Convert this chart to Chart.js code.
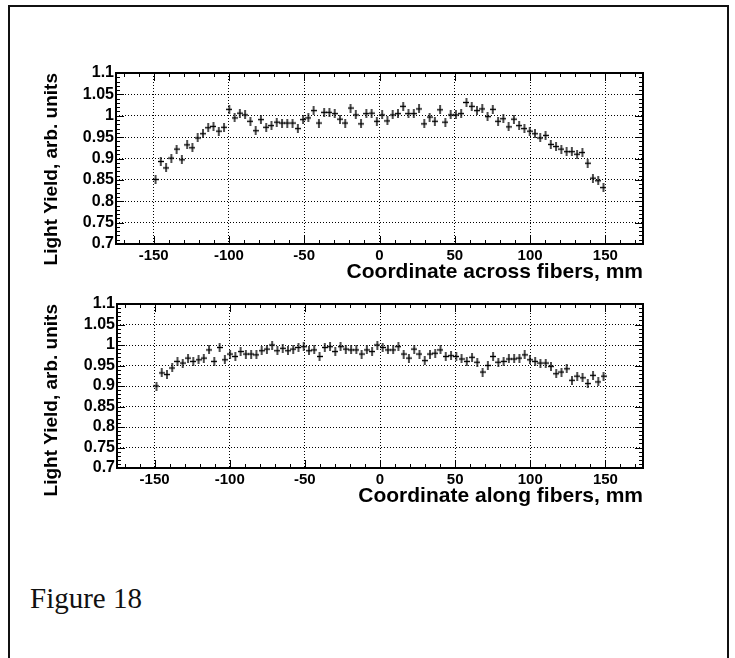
<!DOCTYPE html>
<html>
<head>
<meta charset="utf-8">
<script src="https://cdn.jsdelivr.net/npm/chart.js@4.4.1/dist/chart.umd.min.js"></script>
<style>
  html, body { margin: 0; padding: 0; background: #fff; }
  body { width: 735px; height: 658px; position: relative; overflow: hidden; }
  .frame { position: absolute; left: 8px; top: 5px; width: 721px; height: 700px;
           box-sizing: border-box; border: 2px solid #111; }
  .plot { position: absolute; left: 0; }
  #wrapAcross { top: 0; }
  #wrapAlong { top: 270px; }
  .caption { position: absolute; left: 30px; top: 582px; font: 29px "Liberation Serif", "Times New Roman", serif; color: #111; }
</style>
</head>
<body>
<div class="frame"></div>
<div class="plot" id="wrapAcross"><canvas id="across-chart" width="735" height="300"></canvas></div>
<div class="plot" id="wrapAlong"><canvas id="along-chart" width="735" height="270"></canvas></div>
<div class="caption">Figure 18</div>

<script>
// bin centres (mm), 3.5 mm bins
const positions = [
  -148.75, -145.25, -141.75, -138.25, -134.75, -131.25, -127.75, -124.25, -120.75, -117.25,
  -113.75, -110.25, -106.75, -103.25, -99.75, -96.25, -92.75, -89.25, -85.75, -82.25,
  -78.75, -75.25, -71.75, -68.25, -64.75, -61.25, -57.75, -54.25, -50.75, -47.25,
  -43.75, -40.25, -36.75, -33.25, -29.75, -26.25, -22.75, -19.25, -15.75, -12.25,
  -8.75, -5.25, -1.75,
  1.75, 5.25, 8.75, 12.25, 15.75, 19.25, 22.75, 26.25, 29.75, 33.25,
  36.75, 40.25, 43.75, 47.25, 50.75, 54.25, 57.75, 61.25, 64.75, 68.25,
  71.75, 75.25, 78.75, 82.25, 85.75, 89.25, 92.75, 96.25, 99.75, 103.25,
  106.75, 110.25, 113.75, 117.25, 120.75, 124.25, 127.75, 131.25, 134.75, 138.25,
  141.75, 145.25, 148.75
];

const yieldAcross = [
  0.851, 0.893, 0.878, 0.901, 0.922, 0.897, 0.932, 0.925, 0.948, 0.958,
  0.972, 0.975, 0.964, 0.973, 1.015, 0.995, 1.006, 1.002, 0.987, 0.965,
  0.991, 0.973, 0.977, 0.985, 0.983, 0.983, 0.983, 0.970, 0.991, 0.995,
  1.012, 0.983, 1.008, 1.008, 1.005, 0.992, 0.983, 1.018, 1.002, 0.981,
  1.005, 1.006, 0.987,
  1.002, 0.988, 1.002, 1.005, 1.022, 1.005, 1.005, 1.016, 0.981, 0.997,
  0.987, 1.014, 0.985, 1.002, 1.002, 1.005, 1.031, 1.022, 1.012, 1.016,
  0.998, 1.015, 0.987, 0.993, 0.974, 0.992, 0.977, 0.970, 0.964, 0.958,
  0.948, 0.954, 0.933, 0.928, 0.922, 0.916, 0.916, 0.910, 0.914, 0.889,
  0.854, 0.848, 0.832
];

const yieldAlong = [
  0.900, 0.932, 0.928, 0.944, 0.960, 0.956, 0.968, 0.960, 0.964, 0.968,
  0.988, 0.960, 0.994, 0.964, 0.978, 0.972, 0.984, 0.978, 0.978, 0.976,
  0.986, 0.990, 1.000, 0.986, 0.992, 0.986, 0.990, 0.994, 0.996, 0.986,
  0.988, 0.972, 0.994, 0.996, 0.984, 0.996, 0.990, 0.988, 0.988, 0.978,
  0.988, 0.984, 1.000,
  0.994, 0.988, 0.988, 0.996, 0.978, 0.968, 0.990, 0.978, 0.962, 0.978,
  0.980, 0.988, 0.972, 0.974, 0.972, 0.966, 0.960, 0.970, 0.958, 0.934,
  0.950, 0.972, 0.958, 0.960, 0.966, 0.966, 0.968, 0.976, 0.964, 0.960,
  0.956, 0.956, 0.948, 0.930, 0.934, 0.942, 0.914, 0.924, 0.920, 0.906,
  0.926, 0.910, 0.924
];

const xTicks = [-150, -100, -50, 0, 50, 100, 150];
const yTicks = [0.7, 0.75, 0.8, 0.85, 0.9, 0.95, 1, 1.05, 1.1];
const xMinorTicks = [-170, -160, -140, -130, -120, -110, -90, -80, -70, -60, -40, -30, -20, -10,
                     10, 20, 30, 40, 60, 70, 80, 90, 110, 120, 130, 140, 160, 170];
const yMinorTicks = [0.71, 0.72, 0.73, 0.74, 0.76, 0.77, 0.78, 0.79, 0.81, 0.82, 0.83, 0.84,
                     0.86, 0.87, 0.88, 0.89, 0.91, 0.92, 0.93, 0.94, 0.96, 0.97, 0.98, 0.99,
                     1.01, 1.02, 1.03, 1.04, 1.06, 1.07, 1.08, 1.09];

const SANS = '"Liberation Sans", Arial, Helvetica, sans-serif';

// small "+" marker: bin width horizontally, error bar vertically
function crossMarker() {
  const c = document.createElement('canvas');
  c.width = 6;
  c.height = 9;
  const g = c.getContext('2d');
  g.fillStyle = '#000';
  g.fillRect(0, 3.8, 6, 1.4);
  g.fillRect(2.3, 0, 1.4, 9);
  return c;
}
const marker = crossMarker();

// frame and inward ticks on all four sides, like the original histogram
const rootFrame = {
  id: 'rootFrame',
  afterDatasetsDraw(chart) {
    const { ctx, chartArea: a, scales: { x, y } } = chart;
    ctx.save();
    ctx.strokeStyle = '#000';
    ctx.lineWidth = 1;
    ctx.beginPath();
    const xt = (vals, len) => vals.forEach(v => {
      const px = Math.round(x.getPixelForValue(v)) + 0.5;
      ctx.moveTo(px, a.bottom); ctx.lineTo(px, a.bottom - len);
      ctx.moveTo(px, a.top); ctx.lineTo(px, a.top + len);
    });
    const yt = (vals, len) => vals.forEach(v => {
      const py = Math.round(y.getPixelForValue(v)) + 0.5;
      ctx.moveTo(a.left, py); ctx.lineTo(a.left + len, py);
      ctx.moveTo(a.right, py); ctx.lineTo(a.right - len, py);
    });
    xt(xTicks, 8);
    xt(xMinorTicks, 4);
    yt(yTicks, 8);
    yt(yMinorTicks, 4);
    ctx.stroke();
    ctx.lineWidth = 2;
    ctx.strokeRect(a.left, a.top, a.right - a.left, a.bottom - a.top);
    ctx.restore();
  }
};

function lightYieldChart(ctx, values, xTitle, pad, axisWidth) {
  return new Chart(ctx, {
    type: 'scatter',
    data: {
      datasets: [{
        data: positions.map((p, i) => ({ x: p, y: values[i] })),
        pointStyle: marker,
        radius: 3,
        hoverRadius: 3
      }]
    },
    options: {
      responsive: false,
      animation: false,
      devicePixelRatio: 1,
      layout: { padding: pad },
      plugins: { legend: { display: false }, tooltip: { enabled: false } },
      scales: {
        x: {
          type: 'linear',
          min: -175,
          max: 175,
          afterBuildTicks: s => { s.ticks = xTicks.map(v => ({ value: v })); },
          afterFit: s => { s.height = 46; },
          grid: { color: '#000', lineWidth: 1, drawTicks: false },
          border: { display: false, dash: [1, 2] },
          ticks: {
            autoSkip: false,
            maxRotation: 0,
            padding: 3,
            color: '#000',
            font: { family: SANS, size: 15, weight: 'bold' }
          },
          title: {
            display: true,
            text: xTitle,
            align: 'end',
            color: '#000',
            font: { family: SANS, size: 21, weight: 'bold' },
            padding: { top: 0, bottom: 5 }
          }
        },
        y: {
          type: 'linear',
          min: 0.7,
          max: 1.1,
          afterBuildTicks: s => { s.ticks = yTicks.map(v => ({ value: v })); },
          afterFit: s => { s.width = axisWidth; },
          grid: { color: '#000', lineWidth: 1, drawTicks: false },
          border: { display: false, dash: [1, 2] },
          ticks: {
            autoSkip: false,
            padding: 2,
            color: '#000',
            font: { family: SANS, size: 16, weight: 'bold', lineHeight: 1 },
            callback: v => String(Number(v.toFixed(2)))
          },
          title: {
            display: true,
            text: 'Light Yield, arb. units',
            align: 'end',
            color: '#000',
            font: { family: SANS, size: 19, weight: 'bold' },
            padding: { top: 40, bottom: 0 }
          }
        }
      }
    },
    plugins: [rootFrame]
  });
}

let acrossChart = document.getElementById('across-chart').getContext('2d');
lightYieldChart(acrossChart, yieldAcross, 'Coordinate across fibers, mm',
  { left: 0, top: 73, right: 92, bottom: 10 }, 116);

let alongChart = document.getElementById('along-chart').getContext('2d');
lightYieldChart(alongChart, yieldAlong, 'Coordinate along fibers, mm',
  { left: 0, top: 34, right: 92, bottom: 26 }, 117);
</script>
</body>
</html>
